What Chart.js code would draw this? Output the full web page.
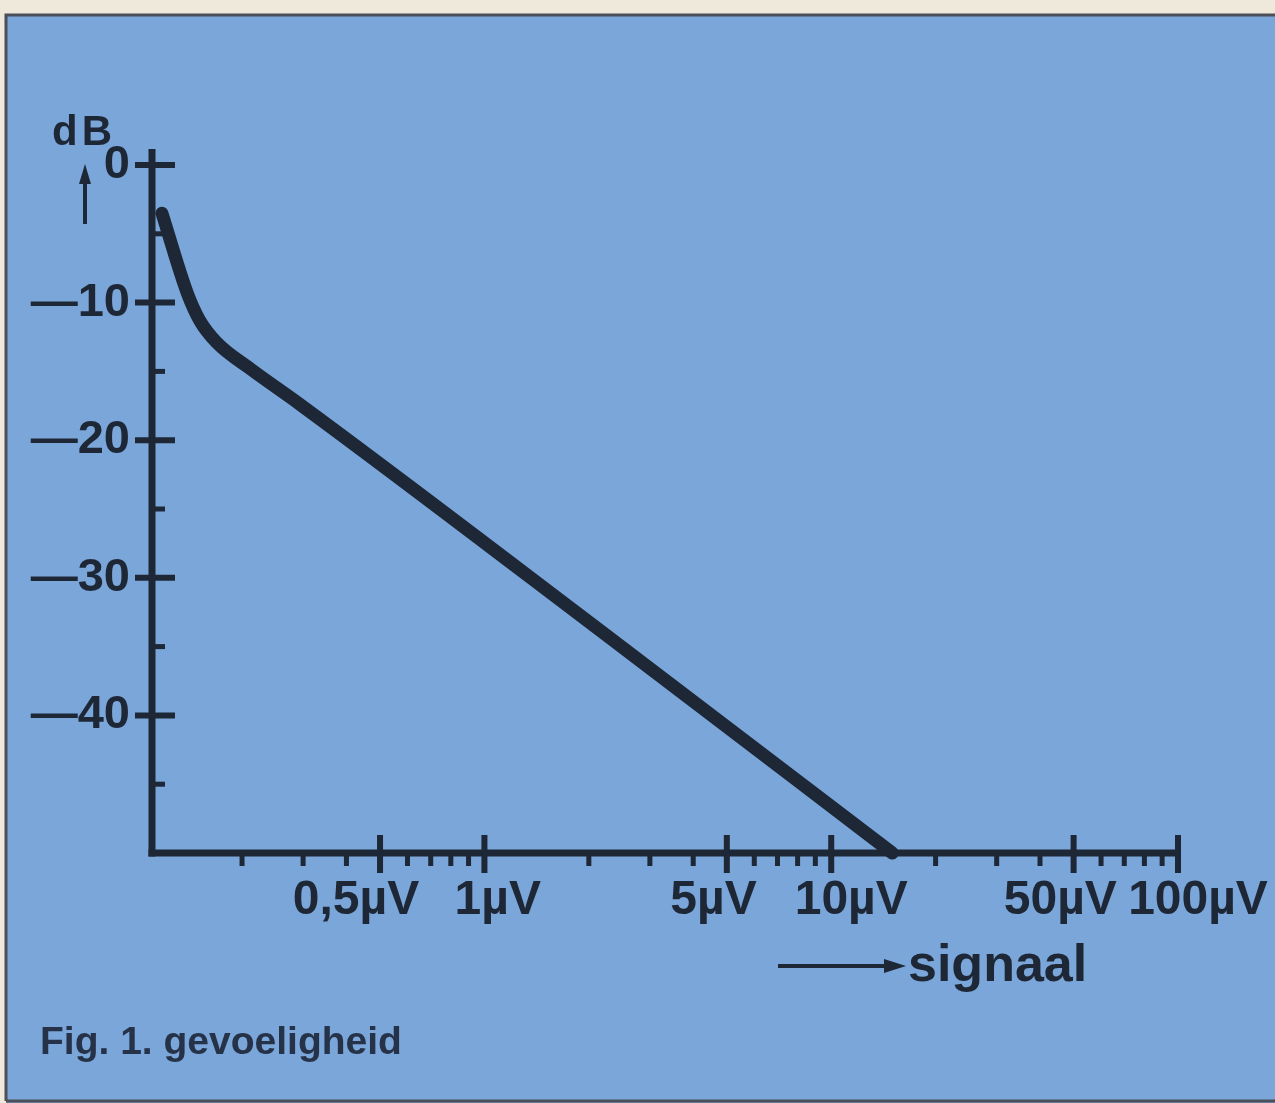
<!DOCTYPE html>
<html>
<head>
<meta charset="utf-8">
<script src="https://cdn.jsdelivr.net/npm/chart.js@4.4.1/dist/chart.umd.min.js"></script>
<style>
  html, body { margin: 0; padding: 0; background: #efe9dc; }
  #wrap { width: 1275px; height: 1103px; position: relative; }
</style>
</head>
<body>
<div id="wrap"><canvas id="chart"></canvas></div>
<script>
// --- Data ---
const signalValues = [0.1175, 0.139, 0.151, 0.169, 0.211, 0.294, 2.15, 15.0]; // µV
const dbValues = [-3.5, -9.3, -11.3, -12.9, -14.8, -17.4, -33.8, -50];       // dB

const xMajorTicks = [0.5, 1, 5, 10, 50, 100];
// spaces nudge the labels off their ticks the way the printed figure has them
const xMajorLabels = ['0,5µV\u2003', '  1µV', '5µV  ', '   10µV', '50µV  ', '   100µV'];
const xMinorTicks = [0.2, 0.3, 0.4, 0.6, 0.7, 0.8, 0.9, 2, 3, 4, 6, 7, 8, 9, 20, 30, 40, 60, 70, 80, 90];

const yMajorTicks = [0, -10, -20, -30, -40];
const yMajorLabels = ['0', '—10', '—20', '—30', '—40'];
const yMinorTicks = [-5, -15, -25, -35, -45];

// --- Styling ---
const INK = '#1d2736';
const PANEL = '#7ba6d9';
const PAPER = '#efe9dc';
const FONT = '"Liberation Sans", Arial, sans-serif';

function line(ctx, x1, y1, x2, y2) {
    ctx.beginPath();
    ctx.moveTo(x1, y1);
    ctx.lineTo(x2, y2);
    ctx.stroke();
}

// Panel, hand-drawn style axes and the loose texts
const figureArt = {
    id: 'figureArt',
    beforeDraw(chart) {
        const ctx = chart.ctx;
        ctx.save();
        ctx.fillStyle = PAPER;
        ctx.fillRect(0, 0, chart.width, chart.height);
        ctx.fillStyle = PANEL;
        ctx.fillRect(6, 15, chart.width - 6, chart.height - 15);
        ctx.strokeStyle = '#4b4f57';
        ctx.lineWidth = 3;
        ctx.beginPath();
        ctx.moveTo(6, chart.height - 2);
        ctx.lineTo(6, 15);
        ctx.lineTo(chart.width, 15);
        ctx.stroke();
        line(ctx, 6, chart.height - 2, chart.width, chart.height - 2);
        ctx.restore();
    },
    beforeDatasetsDraw(chart) {
        const ctx = chart.ctx;
        const { left, top, bottom } = chart.chartArea;
        const xs = chart.scales.x, ys = chart.scales.y;
        ctx.save();
        ctx.strokeStyle = INK;
        ctx.lineCap = 'butt';

        // axis lines
        ctx.lineWidth = 7;
        line(ctx, left, top - 16, left, bottom + 3.5);
        line(ctx, left - 3.5, bottom, xs.getPixelForValue(100) + 3, bottom);

        // y ticks
        ctx.lineWidth = 6;
        yMajorTicks.forEach(v => {
            const p = ys.getPixelForValue(v);
            line(ctx, left - 17, p, left + 23, p);
        });
        ctx.lineWidth = 5;
        yMinorTicks.forEach(v => {
            const p = ys.getPixelForValue(v);
            line(ctx, left, p, left + 13, p);
        });

        // x ticks
        ctx.lineWidth = 6;
        xMajorTicks.forEach(v => {
            const p = xs.getPixelForValue(v);
            line(ctx, p, bottom - 18, p, bottom + 20);
        });
        ctx.lineWidth = 5;
        xMinorTicks.forEach(v => {
            const p = xs.getPixelForValue(v);
            line(ctx, p, bottom, p, bottom + 13);
        });
        ctx.restore();
    },
    afterDraw(chart) {
        const ctx = chart.ctx;
        ctx.save();
        ctx.fillStyle = INK;
        ctx.strokeStyle = INK;
        ctx.textBaseline = 'alphabetic';
        ctx.textAlign = 'left';

        // "dB" and the up arrow beside 0
        ctx.font = 'bold 42px ' + FONT;
        ctx.letterSpacing = '4px';
        ctx.fillText('dB', 52, 145);
        ctx.letterSpacing = '0px';
        ctx.lineWidth = 4;
        line(ctx, 85, 224, 85, 178);
        ctx.beginPath();
        ctx.moveTo(85, 164);
        ctx.lineTo(79, 184);
        ctx.lineTo(91, 184);
        ctx.closePath();
        ctx.fill();

        // "signaal" with the right arrow
        line(ctx, 778, 966, 888, 966);
        ctx.beginPath();
        ctx.moveTo(906, 966);
        ctx.lineTo(884, 959);
        ctx.lineTo(884, 973);
        ctx.closePath();
        ctx.fill();
        ctx.font = 'bold 52px ' + FONT;
        ctx.fillText('signaal', 908, 981);

        // caption
        ctx.fillStyle = '#263247';
        ctx.font = 'bold 39px ' + FONT;
        ctx.fillText('Fig. 1. gevoeligheid', 40, 1054);
        ctx.restore();
    }
};

document.addEventListener('DOMContentLoaded', () => {
    const ctx = document.getElementById('chart').getContext('2d');
    new Chart(ctx, {
        type: 'line',
        data: {
            datasets: [{
                data: signalValues.map((x, i) => ({ x: x, y: dbValues[i] })),
                borderColor: INK,
                borderWidth: 13,
                pointRadius: 0,
                fill: false,
                cubicInterpolationMode: 'monotone',
                borderCapStyle: 'round',
                borderJoinStyle: 'round',
                clip: false
            }]
        },
        options: {
            responsive: true,
            maintainAspectRatio: false,
            animation: false,
            events: [],
            layout: { padding: { left: 0, right: 97, top: 165, bottom: 170 } },
            plugins: {
                legend: { display: false },
                tooltip: { enabled: false }
            },
            scales: {
                x: {
                    type: 'logarithmic',
                    min: 0.11,
                    max: 100,
                    grid: { display: false, drawTicks: false },
                    border: { display: false },
                    afterBuildTicks: s => { s.ticks = xMajorTicks.map(v => ({ value: v })); },
                    afterFit: s => { s.height = 80; s.paddingLeft = 0; s.paddingRight = 0; },
                    ticks: {
                        autoSkip: false,
                        maxRotation: 0,
                        minRotation: 0,
                        padding: 19,
                        color: INK,
                        font: { family: FONT, size: 48, weight: 'bold' },
                        callback: v => {
                            const i = xMajorTicks.indexOf(v);
                            return i >= 0 ? xMajorLabels[i] : '';
                        }
                    }
                },
                y: {
                    min: -50,
                    max: 0,
                    grid: { display: false, drawTicks: false },
                    border: { display: false },
                    afterBuildTicks: s => { s.ticks = yMajorTicks.map(v => ({ value: v })); },
                    afterFit: s => { s.width = 152; s.paddingTop = 0; s.paddingBottom = 0; },
                    ticks: {
                        padding: 22,
                        color: INK,
                        font: { family: FONT, size: 47, weight: 'bold' },
                        callback: v => {
                            const i = yMajorTicks.indexOf(v);
                            return i >= 0 ? yMajorLabels[i] : '';
                        }
                    }
                }
            }
        },
        plugins: [figureArt]
    });
});
</script>
</body>
</html>
